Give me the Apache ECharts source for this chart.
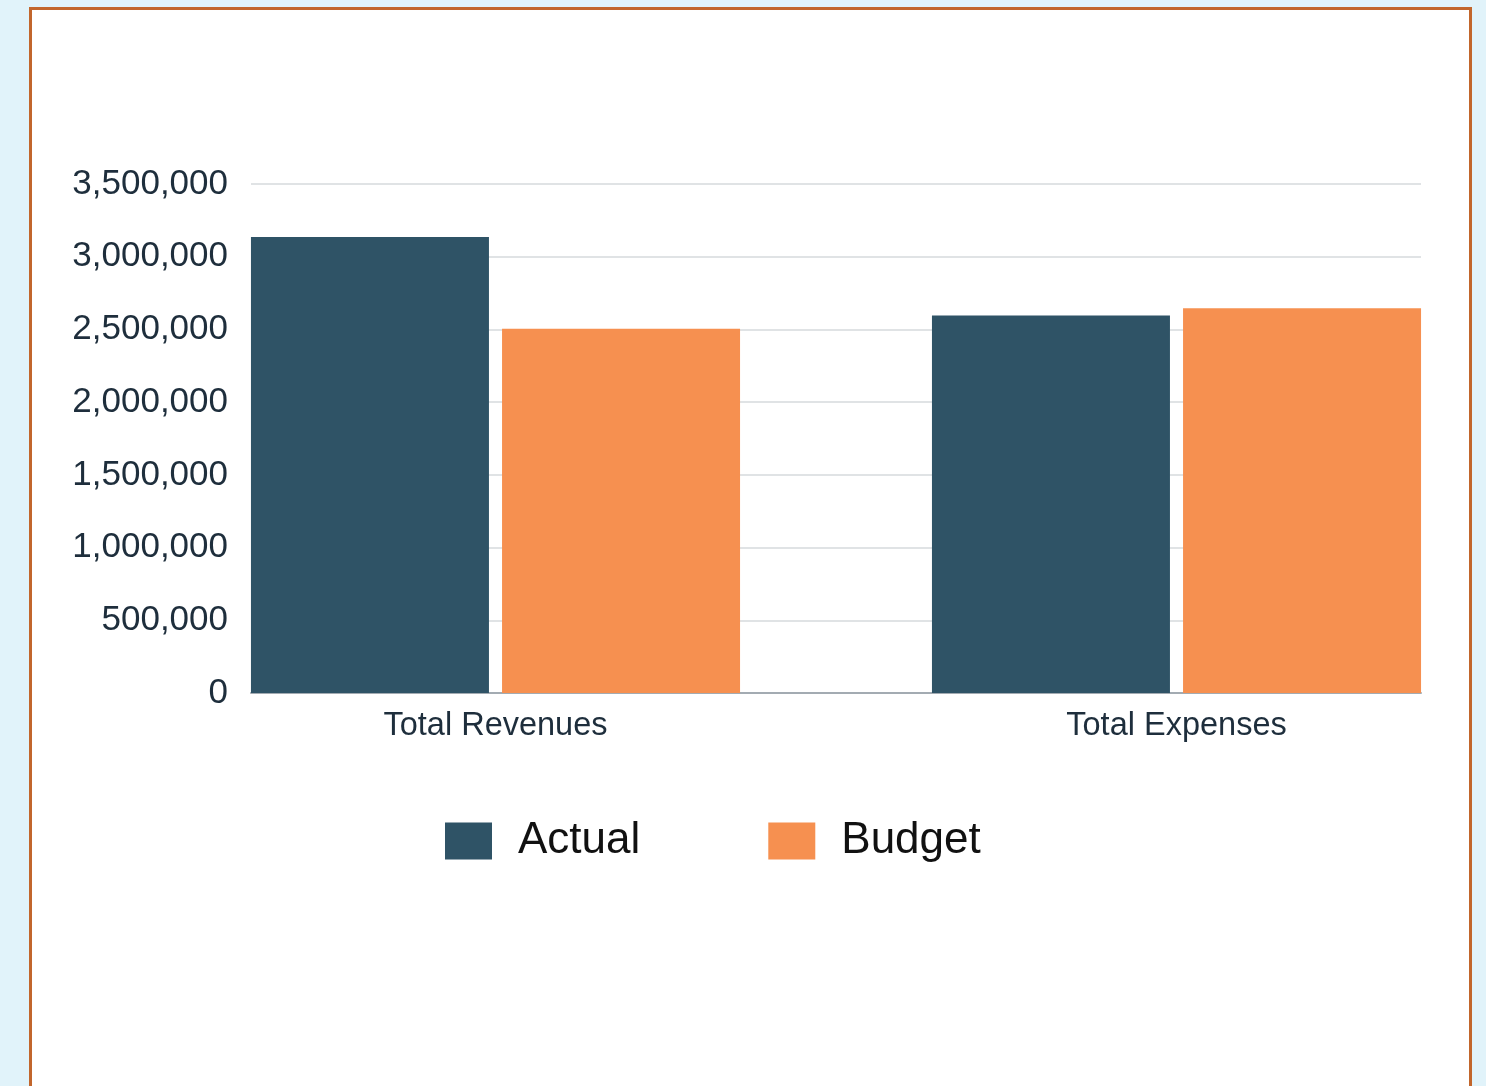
<!DOCTYPE html>
<html>
<head>
<meta charset="utf-8">
<script src="https://cdn.jsdelivr.net/npm/echarts@6/dist/echarts.min.js"></script>
<style>
  html, body { margin: 0; padding: 0; width: 1486px; height: 1086px; background: #e1f3fa; overflow: hidden; }
  #panel { position: absolute; left: 29px; top: 7px; width: 1437px; height: 1200px; background: #ffffff; border: 3px solid #c2662c; }
  #chart { position: absolute; left: 0; top: 0; width: 1486px; height: 1086px; }
</style>
</head>
<body>
<div id="panel"></div>
<div id="chart"></div>
<script>
const categories = ['Total Revenues', 'Total Expenses'];
const actualValues = [3135000, 2595000];
const budgetValues = [2505000, 2645000];
const yTicks = { min: 0, max: 3500000, interval: 500000 };

const chart = echarts.init(document.getElementById('chart'), null, { renderer: 'canvas' });
const font = '"Liberation Sans", Arial, sans-serif';
chart.setOption({
  backgroundColor: 'transparent',
  animation: false,
  textStyle: { fontFamily: font },
  legend: {
    left: 440, top: 814,
    itemWidth: 47, itemHeight: 37, itemGap: 128,
    icon: 'rect',
    textStyle: { fontSize: 44, color: '#111111', fontFamily: font, padding: [10, 0, 0, 21] },
    data: ['Actual', 'Budget']
  },
  grid: [
    { left: 251, top: 184, width: 1170, height: 509 },
    { left: 495.5, top: 184, width: 681, height: 509 }
  ],
  xAxis: [
    { gridIndex: 0, type: 'category', data: categories, axisLine: { show: true, lineStyle: { color: '#a3abb2', width: 2 } },
      axisTick: { show: false }, axisLabel: { show: false }, splitLine: { show: false } },
    { gridIndex: 1, type: 'category', boundaryGap: false, data: categories, axisLine: { show: false }, axisTick: { show: false },
      axisLabel: { fontSize: 32.5, color: '#1e2e3c', margin: 17, fontFamily: font } }
  ],
  yAxis: [
    { gridIndex: 0, type: 'value', min: yTicks.min, max: yTicks.max, interval: yTicks.interval,
      axisLine: { show: false }, axisTick: { show: false },
      axisLabel: { fontSize: 35, color: '#1e2e3c', margin: 23, fontFamily: font,
        formatter: v => v.toLocaleString('en-US') },
      splitLine: { lineStyle: { color: '#d6dadd', width: 1.5 } } },
    { gridIndex: 1, type: 'value', min: yTicks.min, max: yTicks.max, interval: yTicks.interval, show: false,
      splitLine: { show: false } }
  ],
  series: [
    { name: 'Actual', type: 'bar', xAxisIndex: 1, yAxisIndex: 1, data: actualValues,
      barWidth: 238, barGap: '5.5%', itemStyle: { color: '#2f5366' } },
    { name: 'Budget', type: 'bar', xAxisIndex: 1, yAxisIndex: 1, data: budgetValues,
      barWidth: 238, barGap: '5.5%', itemStyle: { color: '#f69050' } }
  ]
});
</script>
</body>
</html>
